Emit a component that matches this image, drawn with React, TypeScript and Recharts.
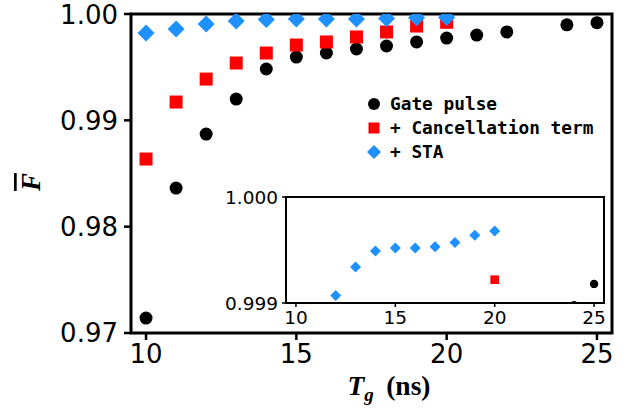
import React from "react";
import {
  ScatterChart,
  Scatter,
  XAxis,
  YAxis,
  ReferenceArea,
  Legend,
} from "recharts";

// gate durations (ns) and averaged fidelities
const gateT = [10, 11, 12, 13, 14, 15, 16, 17, 18, 19, 20, 21, 22, 24, 25];
const gateF = [
  0.9714, 0.98363, 0.98871, 0.992, 0.99483, 0.99595, 0.99633, 0.99671, 0.99699,
  0.99737, 0.99774, 0.99802, 0.99831, 0.99898, 0.99918,
];
const cancelT = [10, 11, 12, 13, 14, 15, 16, 17, 18, 19, 20];
const cancelF = [
  0.98636, 0.99172, 0.99388, 0.99539, 0.99633, 0.99708, 0.99737, 0.99784,
  0.99831, 0.99887, 0.99922,
];
const staT = [10, 11, 12, 13, 14, 15, 16, 17, 18, 19, 20];
const staF = [
  0.99821, 0.99859, 0.99907, 0.99934, 0.99949, 0.99952, 0.99952, 0.99953,
  0.99957, 0.99964, 0.99968,
];

const xTicks = [10, 15, 20, 25];
const yTicks = [0.97, 0.98, 0.99, 1.0];
const insetYTicks = [0.999, 1.0];

const legendNames = ["Gate pulse", "+ Cancellation term", "+ STA"];

const BLUE = "#1e90ff";
const RED = "#ff0000";
const BLACK = "#000000";

const toPoints = (xs: number[], ys: number[]) =>
  xs.map((x, i) => ({ x, y: ys[i] }));

const gateData = toPoints(gateT, gateF);
const cancelData = toPoints(cancelT, cancelF);
const staData = toPoints(staT, staF);

const circle = (r: number, color: string) => (p: any) =>
  <circle cx={p.cx} cy={p.cy} r={r} fill={color} />;

const square = (h: number, color: string) => (p: any) =>
  <rect x={p.cx - h} y={p.cy - h} width={2 * h} height={2 * h} fill={color} />;

const diamond = (h: number, color: string) => (p: any) =>
  (
    <path
      d={`M${p.cx},${p.cy - h}L${p.cx + h},${p.cy}L${p.cx},${p.cy + h}L${p.cx - h},${p.cy}Z`}
      fill={color}
    />
  );

const tickFont = { fontFamily: "DejaVu Sans", fill: "#000" };

function LegendBox() {
  const marks = [
    <circle cx={8} cy={12} r={6} fill={BLACK} />,
    <rect x={2.5} y={6.5} width={11} height={11} fill={RED} />,
    <path d="M8,5L15,12L8,19L1,12Z" fill={BLUE} />,
  ];
  return (
    <div
      style={{
        fontFamily: "DejaVu Sans Mono",
        fontWeight: "bold",
        fontSize: 17.8,
        lineHeight: "24px",
        color: "#000",
      }}
    >
      {legendNames.map((name, i) => (
        <div key={name} style={{ display: "flex", alignItems: "center", whiteSpace: "pre" }}>
          <svg width={16} height={24} style={{ marginRight: 8 }}>
            {marks[i]}
          </svg>
          {name}
        </div>
      ))}
    </div>
  );
}

function XLabel() {
  return (
    <text
      x={389}
      y={395}
      textAnchor="middle"
      fontFamily="Liberation Serif"
      fontWeight="bold"
      fontSize={27.5}
      fill="#000"
    >
      <tspan fontStyle="italic">T</tspan>
      <tspan fontStyle="italic" fontSize={19} dy={6}>
        g
      </tspan>
      <tspan dy={-6}>{"\u2009 (ns)"}</tspan>
    </text>
  );
}

function YLabel() {
  return (
    <text
      x={0}
      y={0}
      transform="translate(40,182) rotate(-90)"
      textAnchor="middle"
      fontFamily="Liberation Serif"
      fontWeight="bold"
      fontStyle="italic"
      fontSize={27}
      fill="#000"
      style={{ textDecoration: "overline" }}
    >
      F
    </text>
  );
}

export default function App() {
  return (
    <div style={{ position: "absolute", left: 0, top: 0, width: 641, height: 412, background: "#fff" }}>
      <ScatterChart width={641} height={412} margin={{ top: 14, right: 29, bottom: 0, left: 0 }}>
        <XAxis
          type="number"
          dataKey="x"
          domain={[9.5, 25.5]}
          ticks={xTicks}
          height={79}
          tickSize={7}
          tickMargin={5}
          axisLine={false}
          tickLine={{ stroke: "#000", strokeWidth: 2.5 }}
          tick={{ ...tickFont, fontSize: 26 }}
          label={<XLabel />}
        />
        <YAxis
          type="number"
          dataKey="y"
          domain={[0.97, 1.0]}
          ticks={yTicks}
          allowDataOverflow
          width={131}
          tickSize={7}
          tickMargin={6}
          axisLine={false}
          tickLine={{ stroke: "#000", strokeWidth: 2.5 }}
          tick={{ ...tickFont, fontSize: 26 }}
          tickFormatter={(v: number) => v.toFixed(2)}
          label={<YLabel />}
        />
        <Scatter data={gateData} shape={circle(6.5, BLACK)} isAnimationActive={false} />
        <Scatter data={cancelData} shape={square(6.5, RED)} isAnimationActive={false} />
        <Scatter data={staData} shape={diamond(8.5, BLUE)} isAnimationActive={false} />
        <ReferenceArea x1={9.5} x2={25.5} y1={0.97} y2={1.0} fill="none" stroke="#000" strokeWidth={3} />
        <Legend
          layout="vertical"
          align="center"
          verticalAlign="middle"
          content={() => <LegendBox />}
          wrapperStyle={{ left: 366, top: 92, width: 240 }}
        />
      </ScatterChart>

      <div style={{ position: "absolute", left: 200, top: 185 }}>
        <ScatterChart width={420} height={150} margin={{ top: 12, right: 16, bottom: 0, left: 0 }}>
          <XAxis
            type="number"
            dataKey="x"
            domain={[9.5, 25.5]}
            ticks={xTicks}
            height={32}
            tickSize={4}
            tickMargin={4}
            axisLine={false}
            tickLine={{ stroke: "#000", strokeWidth: 1.5 }}
            tick={{ ...tickFont, fontSize: 18.5 }}
          />
          <YAxis
            type="number"
            dataKey="y"
            domain={[0.999, 1.0]}
            ticks={insetYTicks}
            allowDataOverflow
            width={86}
            tickSize={4}
            tickMargin={4}
            axisLine={false}
            tickLine={{ stroke: "#000", strokeWidth: 1.5 }}
            tick={{ ...tickFont, fontSize: 18.5 }}
            tickFormatter={(v: number) => v.toFixed(3)}
          />
          <Scatter data={gateData} shape={circle(4.2, BLACK)} isAnimationActive={false} />
          <Scatter data={cancelData} shape={square(4.3, RED)} isAnimationActive={false} />
          <Scatter data={staData} shape={diamond(5.5, BLUE)} isAnimationActive={false} />
          <ReferenceArea x1={9.5} x2={25.5} y1={0.999} y2={1.0} fill="none" stroke="#000" strokeWidth={2} />
        </ScatterChart>
      </div>
    </div>
  );
}
